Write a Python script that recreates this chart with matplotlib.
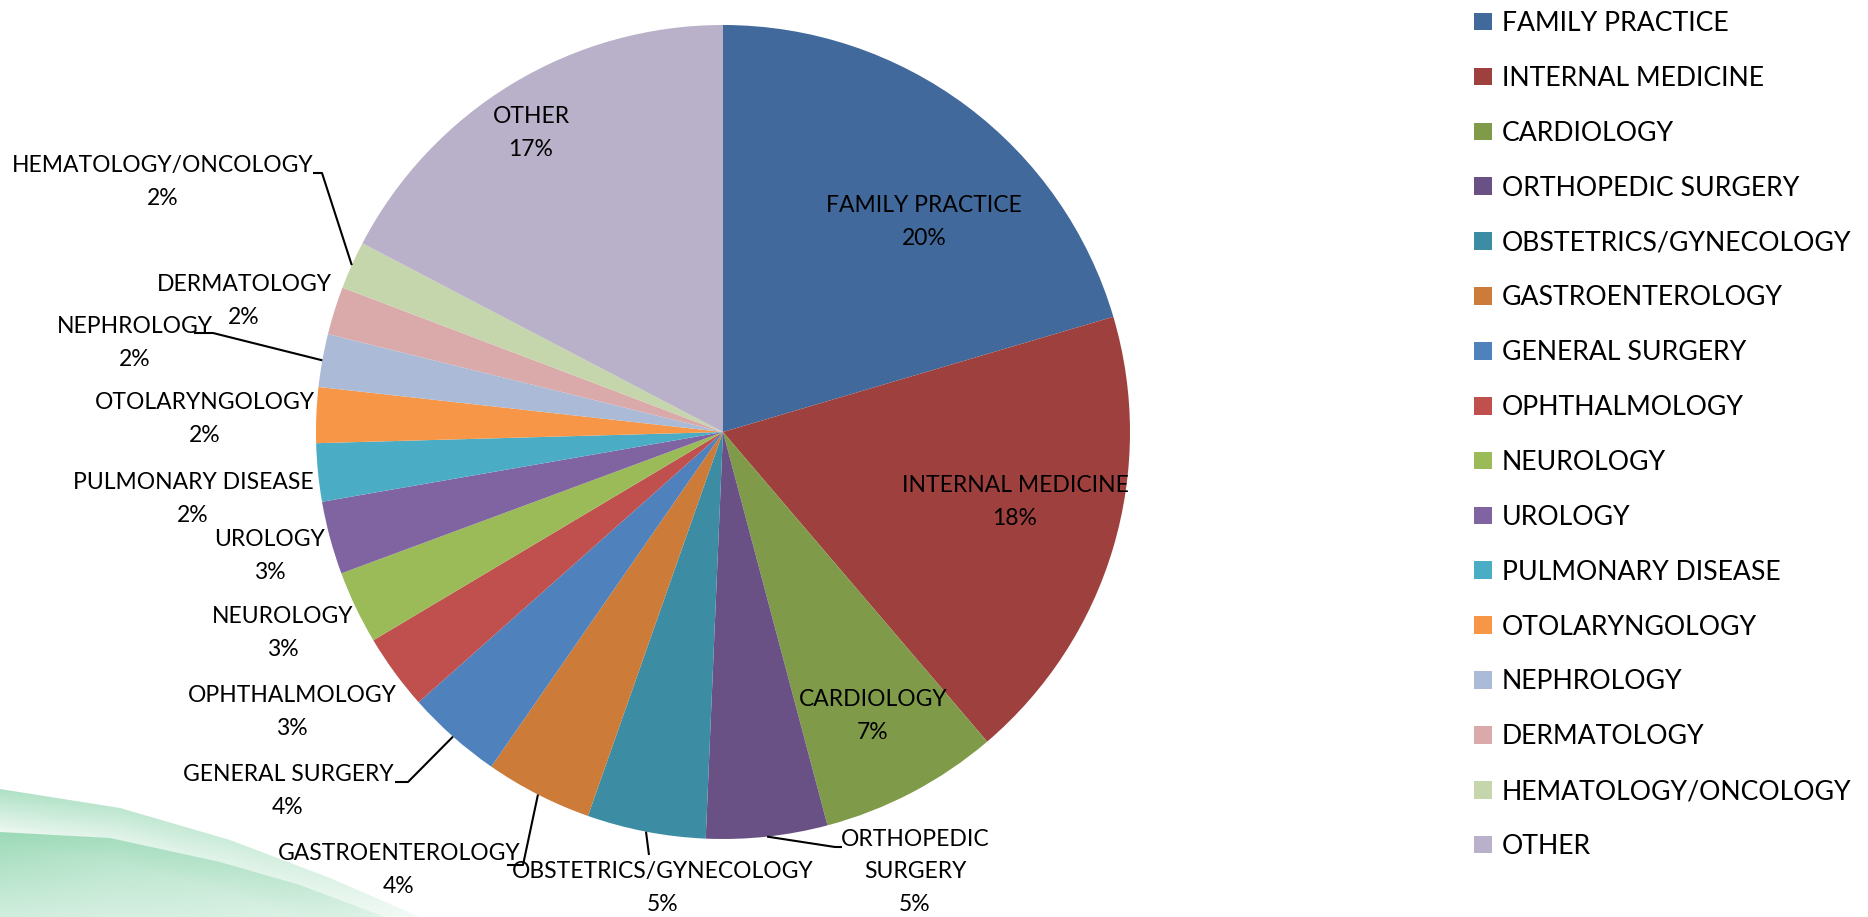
import numpy as np
import matplotlib
matplotlib.use('Agg')
import matplotlib.pyplot as plt
from matplotlib.path import Path
from matplotlib.patches import PathPatch

# Specialty share of physicians (percent)
specialties = ['FAMILY PRACTICE', 'INTERNAL MEDICINE', 'CARDIOLOGY', 'ORTHOPEDIC SURGERY',
               'OBSTETRICS/GYNECOLOGY', 'GASTROENTEROLOGY', 'GENERAL SURGERY', 'OPHTHALMOLOGY',
               'NEUROLOGY', 'UROLOGY', 'PULMONARY DISEASE', 'OTOLARYNGOLOGY', 'NEPHROLOGY',
               'DERMATOLOGY', 'HEMATOLOGY/ONCOLOGY', 'OTHER']
shares = [20.4, 18.3, 7.1, 4.8, 4.7, 4.25, 3.8, 3.0, 2.9, 2.9, 2.3, 2.2, 2.1, 1.9, 1.9, 17.3]

colors = ['#41699b', '#9e413e', '#7f9a48', '#695185', '#3c8da3', '#cc7b38', '#4f81bd', '#c0504d',
          '#9bbb59', '#8064a2', '#4bacc6', '#f79646', '#aabad7', '#d9aaa9', '#c6d6ac', '#b9b0c9']

W, H = 1868, 917
fig = plt.figure(figsize=(W / 100, H / 100), dpi=100)
ax = fig.add_axes([0, 0, 1, 1])
ax.set_xlim(0, W)
ax.set_ylim(0, H)
ax.set_aspect('equal')
ax.axis('off')

def py(y):
    # pixel row (from top) -> data y
    return H - y

# green swoosh in the bottom-left corner (decoration)
def swoosh(top_pts, xmax, strength, fade):
    verts = [(0, py(H + 5))] + [(x, py(y)) for x, y in top_pts] + [(top_pts[-1][0], py(H + 5)), (0, py(H + 5))]
    codes = [Path.MOVETO] + [Path.LINETO] * (len(verts) - 2) + [Path.CLOSEPOLY]
    patch = PathPatch(Path(verts, codes), facecolor='none', edgecolor='none')
    ax.add_patch(patch)
    y0 = 760
    xs = np.arange(0, xmax, 1.0)
    ys = np.arange(y0, H, 1.0)
    gx, gy = np.meshgrid(xs, ys)
    top = np.interp(gx, [p[0] for p in top_pts], [p[1] for p in top_pts])
    depth = np.clip(gy - top, 0, None)
    alpha = np.clip(1 - gx / xmax, 0, 1) ** 0.6 * np.clip(1 - depth / fade, 0.0, 1) * strength
    img = np.zeros(gx.shape + (4,))
    img[..., 0] = 140 / 255
    img[..., 1] = 212 / 255
    img[..., 2] = 172 / 255
    img[..., 3] = np.clip(alpha, 0, 1)
    im = ax.imshow(img, extent=(0, xmax, py(H), py(y0)), origin='upper', zorder=0, interpolation='bilinear')
    im.set_clip_path(patch)

swoosh([(0, 789), (120, 808), (230, 840), (330, 878), (420, 917)], 430, 0.7, 55)
swoosh([(0, 832), (110, 838), (220, 862), (300, 885), (385, 917)], 400, 0.85, 160)

center = (723, py(432))
radius = 407
wedges, _ = ax.pie(shares, colors=colors, startangle=90, counterclock=False,
                   center=center, radius=radius, wedgeprops=dict(linewidth=0))
ax.set_xlim(0, W)
ax.set_ylim(0, H)

total = sum(shares)
font = 'Lato'
lab_size = 16.5
lsp = 1.7

# inside labels: text centre in pixels
inside_pos = {'FAMILY PRACTICE': (924, 222), 'INTERNAL MEDICINE': (1015, 502),
              'CARDIOLOGY': (873, 716), 'OTHER': (531, 133)}
# outside labels: text centre, and leader points next to the text
outside_pos = {
    'ORTHOPEDIC SURGERY': ((915, 872), [(842, 847), (835, 847)]),
    'OBSTETRICS/GYNECOLOGY': ((663, 888), [(649, 855)]),
    'GASTROENTEROLOGY': ((399, 870), [(507, 865), (523, 865)]),
    'GENERAL SURGERY': ((288, 791), [(395, 782), (408, 782)]),
    'OPHTHALMOLOGY': ((292, 712), None),
    'NEUROLOGY': ((283, 633), None),
    'UROLOGY': ((270, 556), None),
    'PULMONARY DISEASE': ((193, 499), None),
    'OTOLARYNGOLOGY': ((205, 419), None),
    'NEPHROLOGY': ((135, 343), [(194, 333), (213, 333)]),
    'DERMATOLOGY': ((244, 301), None),
    'HEMATOLOGY/ONCOLOGY': ((163, 182), [(313, 173), (322, 173)]),
}

for w, name, v in zip(wedges, specialties, shares):
    pct = '%d%%' % round(v / total * 100)
    if name == 'ORTHOPEDIC SURGERY':
        txt = 'ORTHOPEDIC\nSURGERY\n' + pct
    else:
        txt = name + '\n' + pct
    if name in inside_pos:
        x, y = inside_pos[name]
        ax.text(x, py(y), txt, ha='center', va='center', fontsize=lab_size, family=font,
                linespacing=lsp, color='black')
        continue
    (x, y), leader = outside_pos[name]
    ax.text(x, py(y), txt, ha='center', va='center', fontsize=lab_size, family=font,
            linespacing=lsp, color='black')
    if leader:
        mid = np.deg2rad((w.theta1 + w.theta2) / 2)
        ex = center[0] + radius * np.cos(mid)
        ey = center[1] + radius * np.sin(mid)
        lx = [p[0] for p in leader] + [ex]
        ly = [py(p[1]) for p in leader] + [ey]
        ax.plot(lx, ly, color='black', lw=1.5, solid_capstyle='butt')

leg = ax.legend(wedges, specialties, loc='upper left', bbox_to_anchor=(1466 / W, 1 - 3 / H),
                bbox_transform=fig.transFigure, frameon=False, prop={'family': font, 'size': 19.2},
                handlelength=0.68, handleheight=0.64, handletextpad=0.36, labelspacing=1.12,
                borderaxespad=0, borderpad=0.3)

fig.savefig('out.png', dpi=100)
